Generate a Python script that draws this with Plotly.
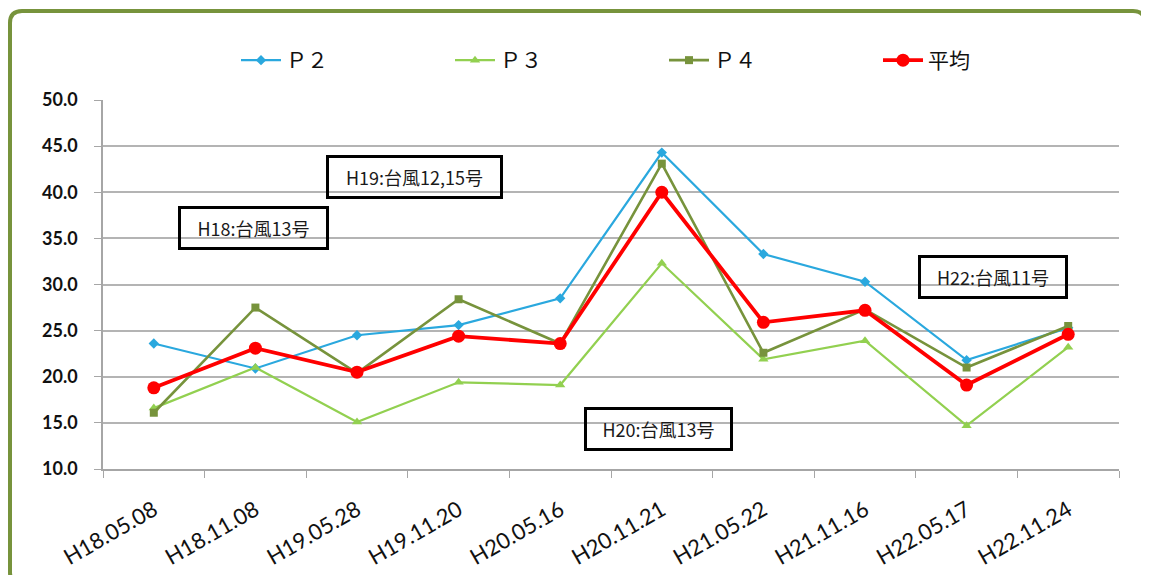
import plotly.graph_objects as go

categories = ["H18.05.08", "H18.11.08", "H19.05.28", "H19.11.20", "H20.05.16",
              "H20.11.21", "H21.05.22", "H21.11.16", "H22.05.17", "H22.11.24"]
p2 = [23.6, 20.9, 24.5, 25.6, 28.5, 44.3, 33.3, 30.3, 21.8, 25.3]
p3 = [16.6, 21.0, 15.1, 19.4, 19.1, 32.3, 21.9, 23.9, 14.7, 23.2]
p4 = [16.1, 27.5, 20.4, 28.4, 23.6, 43.1, 22.6, 27.3, 21.0, 25.5]
avg = [18.8, 23.1, 20.5, 24.4, 23.6, 40.0, 25.9, 27.2, 19.1, 24.6]
series_names = ["Ｐ２", "Ｐ３", "Ｐ４", "平均"]

notes = [
    ("H18:台風13号", 0.98, 36.1, 143),
    ("H19:台風12,15号", 2.57, 41.6, 169),
    ("H20:台風13号", 4.97, 14.35, 141),
    ("H22:台風11号", 8.26, 30.76, 142),
]

OFF = 8  # page body margin
W, H = 1149, 575
L, T = 103 - OFF, 100 - OFF
R = W - (1119 - OFF)
B = H - (469 - OFF)
pw, ph = W - L - R, H - T - B

def px(x):
    return (x - OFF - L) / pw

def py(y):
    return (H - B - (y - OFF)) / ph

fig = go.Figure()
styles = [
    (p2, "#2AA8DE", 2.2, "diamond", 8),
    (p3, "#92D050", 2.2, "triangle-up", 9),
    (p4, "#77933C", 2.6, "square", 8),
    (avg, "#FF0000", 3.8, "circle", 13),
]
for name, (vals, col, lw, sym, ms) in zip(series_names, styles):
    fig.add_trace(go.Scatter(
        x=categories, y=vals, name=name, mode="lines+markers",
        line=dict(color=col, width=lw),
        marker=dict(symbol=sym, size=ms, color=col),
    ))

for text, xv, yv, wd in notes:
    fig.add_annotation(
        x=xv, y=yv, xref="x", yref="y", text=text, showarrow=False,
        font=dict(family="Noto Sans CJK JP", size=18, color="#1a1a1a"),
        bordercolor="#000", borderwidth=3, bgcolor="rgba(255,255,255,0)",
        width=wd, height=36, align="center",
    )

# rounded green frame
x0, x1, y0, y1, r = 10, 1145, 11, 585, 12
path = (f"M {px(x0+r)},{py(y0)} L {px(x1-r)},{py(y0)} Q {px(x1)},{py(y0)} {px(x1)},{py(y0+r)} "
        f"L {px(x1)},{py(y1-r)} Q {px(x1)},{py(y1)} {px(x1-r)},{py(y1)} "
        f"L {px(x0+r)},{py(y1)} Q {px(x0)},{py(y1)} {px(x0)},{py(y1-r)} "
        f"L {px(x0)},{py(y0+r)} Q {px(x0)},{py(y0)} {px(x0+r)},{py(y0)} Z")
fig.add_shape(type="path", path=path, xref="paper", yref="paper",
              line=dict(color="#77933C", width=4), layer="below")

fig.update_layout(
    width=W, height=H,
    margin=dict(l=L, r=R, t=T, b=B),
    paper_bgcolor="white", plot_bgcolor="white",
    showlegend=True,
    legend=dict(orientation="h", x=px(236), y=py(40), xanchor="left", yanchor="top",
                entrywidth=159, entrywidthmode="pixels",
                font=dict(family="Noto Sans CJK JP", size=21, color="#111"),
                itemwidth=40, bgcolor="rgba(0,0,0,0)"),
    xaxis=dict(
        type="category", range=[-0.5, 9.5], tickangle=-30,
        tickfont=dict(family="Lato, sans-serif", size=22, color="#111"),
        showline=True, linecolor="#A6A6A6", linewidth=1.5,
        ticks="outside", tickson="boundaries", ticklen=7, tickcolor="#A6A6A6",
        ticklabelstandoff=18,
        showgrid=False,
    ),
    yaxis=dict(
        range=[10, 50], dtick=5, tickformat=".1f",
        tickfont=dict(family="Lato, sans-serif", size=18, color="#111", weight="bold"),
        showline=True, linecolor="#A6A6A6", linewidth=1.5,
        ticks="outside", ticklen=7, tickcolor="#A6A6A6",
        ticklabelstandoff=13,
        showgrid=True, gridcolor="#B4B4B4", gridwidth=1.5,
        zeroline=False,
    ),
)

fig.write_html("out.html")
